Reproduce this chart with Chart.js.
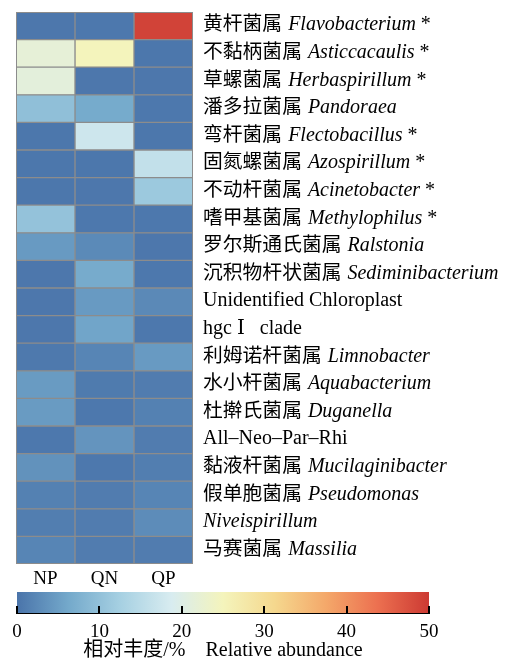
<!DOCTYPE html>
<html>
<head>
<meta charset="utf-8">
<script src="https://cdn.jsdelivr.net/npm/chart.js@4/dist/chart.umd.min.js"></script>
<style>
  html, body { margin: 0; padding: 0; background: #fff; overflow: hidden; }
  #wrap { position: relative; width: 505px; height: 660px; overflow: hidden; }
  #heat { position: absolute; left: 0; top: 0; }
  #bar { position: absolute; left: 0; top: 578px; }
</style>
</head>
<body>
<div id="wrap">
  <canvas id="heat" width="505" height="590"></canvas>
  <canvas id="bar" width="505" height="85"></canvas>
</div>
<script>
// Sample groups (heatmap columns)
const groups = ['NP', 'QN', 'QP'];

// Genus labels: Chinese name, Latin name, whether the Latin name is italic, significance mark
const zhNames = ['黄杆菌属', '不黏柄菌属', '草螺菌属', '潘多拉菌属', '弯杆菌属', '固氮螺菌属', '不动杆菌属',
  '嗜甲基菌属', '罗尔斯通氏菌属', '沉积物杆状菌属', '', '', '利姆诺杆菌属', '水小杆菌属', '杜擀氏菌属',
  '', '黏液杆菌属', '假单胞菌属', '', '马赛菌属'];
const latinNames = ['Flavobacterium', 'Asticcacaulis', 'Herbaspirillum', 'Pandoraea', 'Flectobacillus',
  'Azospirillum', 'Acinetobacter', 'Methylophilus', 'Ralstonia', 'Sediminibacterium',
  'Unidentified Chloroplast', 'hgc Ⅰ   clade', 'Limnobacter', 'Aquabacterium', 'Duganella',
  'All–Neo–Par–Rhi', 'Mucilaginibacter', 'Pseudomonas', 'Niveispirillum', 'Massilia'];
const italicName = [true, true, true, true, true, true, true, true, true, true,
  false, false, true, true, true, false, true, true, true, true];
const significant = [true, true, true, false, true, true, true, true, false, false,
  false, false, false, false, false, false, false, false, false, false];

// Relative abundance (%) per genus in each group
const valuesNP = [0.4, 21.8, 21.3, 9.8, 0.3, 0.3, 0.3, 10.2, 4.5, 0.4, 0.4, 0.4, 0.6, 4.6, 4.6, 0.5, 3.5, 1.5, 1.2, 2.0];
const valuesQN = [0.5, 25.0, 0.4, 6.5, 17.4, 0.3, 0.4, 0.5, 2.6, 6.6, 4.5, 5.8, 2.0, 0.8, 0.5, 3.8, 0.5, 1.0, 1.0, 1.0];
const valuesQP = [49.0, 0.3, 0.4, 0.5, 0.3, 16, 11.3, 0.5, 0.4, 0.5, 2.5, 0.5, 4.5, 1.0, 1.5, 1.0, 1.2, 2.0, 2.8, 1.0];

// Colour scale range and ticks
const scaleMin = 0;
const scaleMax = 50;
const scaleTicks = [0, 10, 20, 30, 40, 50];

// Blue–yellow–red diverging palette, evenly spaced over the scale
const palette = ['#4a74aa', '#74a9cb', '#a6d0e2', '#d8ecf0', '#f4f4bc', '#f5d88e', '#f4a86a', '#ec7050', '#cc3a33'];

function hexToRgb(h) {
  return [parseInt(h.slice(1, 3), 16), parseInt(h.slice(3, 5), 16), parseInt(h.slice(5, 7), 16)];
}
function colorFor(v) {
  const t = Math.max(0, Math.min(1, (v - scaleMin) / (scaleMax - scaleMin)));
  const pos = t * (palette.length - 1);
  const i = Math.min(palette.length - 2, Math.floor(pos));
  const f = pos - i;
  const a = hexToRgb(palette[i]), b = hexToRgb(palette[i + 1]);
  const c = a.map((x, k) => Math.round(x + (b[k] - x) * f));
  return `rgb(${c[0]},${c[1]},${c[2]})`;
}

const SERIF = '"Liberation Serif", "DejaVu Serif", "Noto Sans CJK SC", serif';
const CJK = '"Noto Sans CJK SC", sans-serif';
const GRID = '#8c8c8c';

const columnValues = [valuesNP, valuesQN, valuesQP];

// Each heatmap cell is a floating horizontal bar spanning one unit of the x scale
const heatDatasets = groups.map((g, c) => ({
  label: g,
  data: latinNames.map(() => [c, c + 1]),
  backgroundColor: columnValues[c].map(colorFor),
  borderColor: GRID,
  borderWidth: 1,
  borderSkipped: false,
  grouped: false,
  barPercentage: 1,
  categoryPercentage: 1
}));

// Row labels on the right with italic Latin genus names, sharing one baseline
const rowLabels = {
  id: 'rowLabels',
  afterDraw(chart) {
    const ctx = chart.ctx;
    const y = chart.scales.y;
    const area = chart.chartArea;
    ctx.save();
    ctx.fillStyle = '#000';
    ctx.textBaseline = 'alphabetic';
    ctx.textAlign = 'left';
    latinNames.forEach((name, i) => {
      const py = y.getPixelForValue(i) + 4.5;
      let px = area.right + 10;
      if (zhNames[i]) {
        ctx.font = '19.8px ' + CJK;
        ctx.fillText(zhNames[i], px, py);
        px += ctx.measureText(zhNames[i]).width + 6;
      }
      ctx.font = (italicName[i] ? 'italic ' : '') + '20px ' + SERIF;
      ctx.fillText(name, px, py);
      px += ctx.measureText(name).width;
      if (significant[i]) {
        ctx.font = '20px ' + SERIF;
        ctx.fillText(' *', px, py);
      }
    });
    ctx.restore();
  }
};

// Outer frame of the heatmap
const frame = {
  id: 'frame',
  afterDatasetsDraw(chart) {
    const { ctx, chartArea: a } = chart;
    ctx.save();
    ctx.strokeStyle = GRID;
    ctx.lineWidth = 1;
    ctx.strokeRect(a.left + 0.5, a.top + 0.5, a.right - a.left - 1, a.bottom - a.top - 1);
    ctx.restore();
  }
};

new Chart(document.getElementById('heat'), {
  type: 'bar',
  data: { labels: latinNames, datasets: heatDatasets },
  options: {
    indexAxis: 'y',
    responsive: false,
    animation: false,
    layout: { padding: { left: 16, right: 312, top: 12, bottom: 0 } },
    plugins: { legend: { display: false }, tooltip: { enabled: false } },
    scales: {
      y: { display: false },
      x: {
        type: 'linear',
        min: 0,
        max: groups.length,
        afterBuildTicks(scale) {
          scale.ticks = groups.map((g, i) => ({ value: i + 0.5 }));
        },
        afterFit(scale) { scale.height = 26; },
        grid: { display: false, drawTicks: false },
        border: { display: false },
        ticks: {
          autoSkip: false,
          maxRotation: 0,
          padding: 4,
          color: '#000',
          font: { family: SERIF, size: 19 },
          callback: (v, i) => groups[i]
        }
      }
    }
  },
  plugins: [rowLabels, frame]
});

// Colour bar: a single floating bar filled with the palette gradient
const colorTicks = {
  id: 'colorTicks',
  afterDatasetsDraw(chart) {
    const { ctx, chartArea: a } = chart;
    const x = chart.scales.x;
    ctx.save();
    ctx.strokeStyle = '#000';
    ctx.lineWidth = 2;
    scaleTicks.forEach(v => {
      const px = Math.round(x.getPixelForValue(v));
      ctx.beginPath();
      ctx.moveTo(px, a.bottom);
      ctx.lineTo(px, a.bottom - 7);
      ctx.stroke();
    });
    ctx.restore();
  }
};

new Chart(document.getElementById('bar'), {
  type: 'bar',
  data: {
    labels: [''],
    datasets: [{
      data: [[scaleMin, scaleMax]],
      backgroundColor(context) {
        const chart = context.chart;
        const a = chart.chartArea;
        if (!a) return palette[0];
        const g = chart.ctx.createLinearGradient(a.left, 0, a.right, 0);
        palette.forEach((c, i) => g.addColorStop(i / (palette.length - 1), c));
        return g;
      },
      borderWidth: 0,
      barPercentage: 1,
      categoryPercentage: 1
    }]
  },
  options: {
    indexAxis: 'y',
    responsive: false,
    animation: false,
    layout: { padding: { left: 17, right: 76, top: 14, bottom: 0 } },
    plugins: { legend: { display: false }, tooltip: { enabled: false } },
    scales: {
      y: { display: false },
      x: {
        type: 'linear',
        min: scaleMin,
        max: scaleMax,
        afterBuildTicks(scale) {
          scale.ticks = scaleTicks.map(v => ({ value: v }));
        },
        afterFit(scale) { scale.height = 50; },
        grid: { display: false, drawTicks: false },
        border: { display: true, color: '#000', width: 2 },
        ticks: {
          autoSkip: false,
          maxRotation: 0,
          padding: 8,
          color: '#000',
          font: { family: SERIF, size: 19 }
        },
        title: {
          display: true,
          text: '相对丰度/%    Relative abundance',
          color: '#000',
          font: { family: SERIF, size: 20 },
          padding: { top: 0, bottom: 0 }
        }
      }
    }
  },
  plugins: [colorTicks]
});
</script>
</body>
</html>
